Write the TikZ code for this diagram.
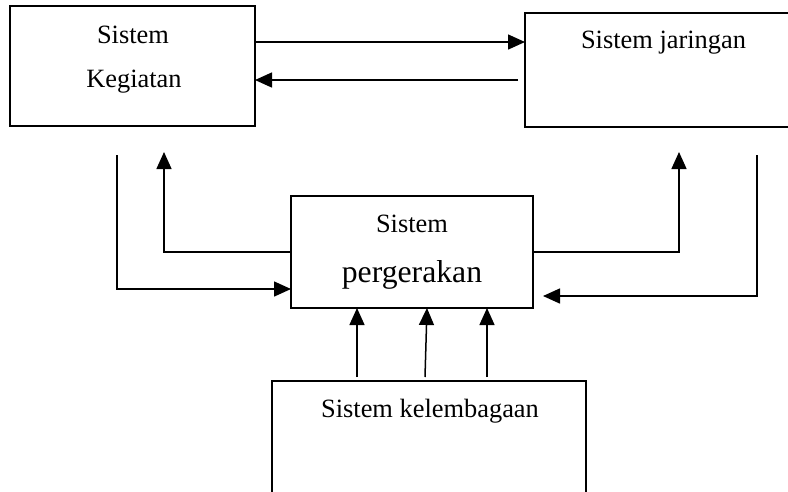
\documentclass[tikz,border=0pt]{standalone}
\usepackage{fontspec}
\setmainfont{Liberation Serif}
\usetikzlibrary{arrows.meta,calc,positioning}

\tikzset{
  box/.style={draw,line width=1.8pt,inner sep=0,outer sep=0},
  link/.style={line width=1.5pt,-{Triangle[length=17pt,width=15pt]}},
  txt/.style={anchor=base,inner sep=0,font=\fontsize{26.4}{30}\selectfont},
  bigtxt/.style={txt,font=\fontsize{31.7}{36}\selectfont},
}

\begin{document}
\begin{tikzpicture}[x=1pt,y=-1pt]
\clip (0,0) rectangle (788,491);

% the four systems
\node[box,minimum width=245pt,minimum height=120pt] (keg) at (132.5,66) {};
\node[box,minimum width=275pt,minimum height=114pt] (jar) at (662.5,70) {};
\node[box,minimum width=242pt,minimum height=112pt] (ger) at (412,252) {};
\node[box,minimum width=314pt,minimum height=119pt] (lem) at (429,440.5) {};

\node[txt] (kegA) at (133,43) {Sistem};
\node[txt] (kegB) at (134,87) {Kegiatan};
\node[txt] (jarA) at (663.5,48) {Sistem jaringan};
\node[txt] (gerA) at (412,232) {Sistem};
\node[bigtxt] (gerB) at (412,282) {pergerakan};
\node[txt] (lemA) at (430,417) {Sistem kelembagaan};

% kegiatan <-> jaringan
\draw[link] ($(keg.north east)+(0,36)$) -- ($(jar.north west)+(0,29)$);
\draw[link] ($(jar.north west)+(-7,67)$) -- ($(keg.north east)+(0,74)$);

% loops round pergerakan
\draw[link] ($(keg.south west)+(107,29)$) |- ($(ger.north west)+(0,93)$);
\draw[link] ($(ger.north west)+(0,56)$) -| ($(keg.south west)+(154,26)$);
\draw[link] ($(ger.north east)+(0,56)$) -| ($(jar.south west)+(154,25)$);
\draw[link] ($(jar.south west)+(232,28)$) |- ($(ger.north east)+(10,100)$);

% kelembagaan -> pergerakan
\foreach \a/\b in {85/66,153/136,215/196}
  \draw[link] ($(lem.north west)+(\a,-4)$) -- ($(ger.south west)+(\b,0)$);

\end{tikzpicture}
\end{document}
